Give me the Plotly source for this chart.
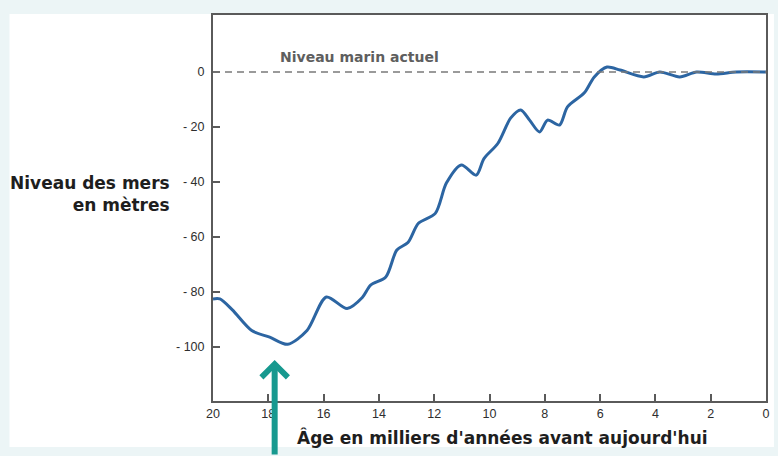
import plotly.graph_objects as go

# Sea level since the last glacial maximum (thousands of years before present, metres)
age_ka = [20.0, 19.75, 19.3, 18.6, 17.95, 17.3, 16.6, 15.9, 15.15, 14.6, 14.3,
          13.75, 13.35, 12.95, 12.57, 11.96, 11.56, 11.02, 10.48, 10.2, 9.7,
          9.23, 8.87, 8.55, 8.19, 7.9, 7.47, 7.18, 6.57, 6.21, 5.75, 5.28,
          4.42, 3.84, 3.12, 2.51, 1.8, 1.08, 0.0]
sea_level_m = [-82.5, -82.5, -86.5, -94.0, -96.4, -99.0, -94.0, -81.8, -86.0,
               -82.0, -77.5, -74.5, -64.7, -62.0, -55.0, -51.4, -40.4, -33.8,
               -37.5, -31.5, -26.0, -16.7, -13.8, -17.5, -21.8, -17.5, -19.3,
               -12.7, -7.6, -1.8, 1.8, 0.7, -1.8, 0.0, -1.8, 0.0, -0.7, 0.0, 0.0]

x_ticks = [20, 18, 16, 14, 12, 10, 8, 6, 4, 2, 0]
y_ticks = [0, -20, -40, -60, -80, -100]
y_tick_text = ["0", "- 20", "- 40", "- 60", "- 80", "- 100"]

W, H = 778, 456
ML, MR, MT, MB = 213, 8, 15, 55
PW, PH = W - ML - MR, H - MT - MB


def px_x(p):
    return (p - ML) / PW


def px_y(p):
    return (H - MB - p) / PH


fig = go.Figure()
fig.add_trace(go.Scatter(
    x=age_ka, y=sea_level_m, mode="lines",
    line=dict(color="#2c65a2", width=3, shape="spline", smoothing=0.8),
    hoverinfo="skip", showlegend=False,
))

tick_font = dict(family="Liberation Sans, Arial, sans-serif", size=12.5, color="#2e2e2e")
axis_common = dict(showline=True, linecolor="#5a5a5a", linewidth=2, mirror=True,
                   ticks="inside", ticklen=7, tickwidth=1.5, tickcolor="#5a5a5a",
                   showgrid=False, zeroline=False, tickfont=tick_font)

fig.update_layout(
    width=W, height=H,
    margin=dict(l=ML, r=MR, t=MT, b=MB),
    paper_bgcolor="#ecf5f6",
    plot_bgcolor="rgba(0,0,0,0)",
    xaxis=dict(range=[20, 0], tickvals=x_ticks, ticktext=[str(v) for v in x_ticks],
               **axis_common),
    yaxis=dict(range=[-119.6, 20.7], tickvals=y_ticks, ticktext=y_tick_text,
               ticklabelstandoff=4, **axis_common),
    shapes=[
        # white page area inside the light frame
        dict(type="rect", xref="paper", yref="paper", layer="below",
             x0=px_x(8), x1=px_x(W), y0=px_y(447), y1=px_y(14),
             fillcolor="white", line=dict(width=0)),
        # present-day sea level
        dict(type="line", xref="paper", yref="y", x0=0, x1=1, y0=0, y1=0,
             line=dict(color="#7a7a7a", width=1.6, dash="7px,5px")),
    ],
    annotations=[
        dict(text="Niveau marin actuel", x=14.69, y=5.6, xref="x", yref="y",
             showarrow=False, xanchor="center", yanchor="middle",
             font=dict(family="DejaVu Sans, sans-serif", size=14, color="#5e5e5e",
                       weight="bold")),
        dict(text="Niveau des mers<br>en mètres", x=px_x(172), y=px_y(194),
             xref="paper", yref="paper", showarrow=False, xanchor="right",
             yanchor="middle", align="right",
             font=dict(family="DejaVu Sans, sans-serif", size=17, color="#1e1e1e",
                       weight="bold")),
        dict(text="Âge en milliers d'années avant aujourd'hui", x=px_x(505),
             y=px_y(438), xref="paper", yref="paper", showarrow=False,
             xanchor="center", yanchor="middle",
             font=dict(family="DejaVu Sans, sans-serif", size=17, color="#1e1e1e",
                       weight="bold")),
        # marker of the glacial low stand
        dict(text="", x=17.77, y=-104.7, xref="x", yref="y", showarrow=True,
             ax=0, ay=110, arrowhead=4, arrowsize=0.85, arrowwidth=6,
             arrowcolor="#17998f"),
    ],
)

fig.write_html("out.html")
